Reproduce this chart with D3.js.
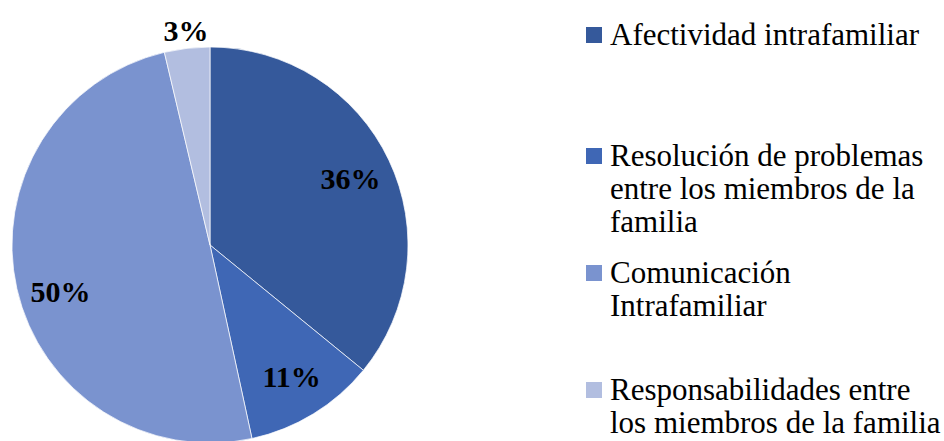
<!DOCTYPE html>
<html>
<head>
<meta charset="utf-8">
<script src="https://cdn.jsdelivr.net/npm/d3@7"></script>
<style>
  body { margin: 0; background: #fff; }
  svg { display: block; }
</style>
</head>
<body>
<div id="chart"></div>
<script>
// --- data ---
const categories = [
  "Afectividad intrafamiliar",
  "Resolución de problemas entre los miembros de la familia",
  "Comunicación Intrafamiliar",
  "Responsabilidades entre los miembros de la familia"
];
const values = [35.9, 10.7, 49.7, 3.7];
const valueLabels = ["36%", "11%", "50%", "3%"];
// legend text broken the way the picture wraps it
const legendLines = [
  ["Afectividad intrafamiliar"],
  ["Resolución de problemas", "entre los miembros de la", "familia"],
  ["Comunicación", "Intrafamiliar"],
  ["Responsabilidades entre", "los miembros de la familia"]
];
const colors = ["#35599b", "#3f67b5", "#7a93cf", "#b2bee0"];

const width = 944, height = 441;
const cx = 210, cy = 245, radius = 198;
const serif = "'Liberation Serif', 'Times New Roman', serif";

const svg = d3.select("#chart").append("svg")
  .attr("width", width)
  .attr("height", height);

const color = d3.scaleOrdinal().domain(categories).range(colors);

const pie = d3.pie().sort(null).value(d => d.value);
const arcs = pie(categories.map((c, i) => ({ name: c, value: values[i], label: valueLabels[i] })));

const arc = d3.arc().innerRadius(0).outerRadius(radius);

const g = svg.append("g").attr("transform", `translate(${cx},${cy})`);

g.selectAll("path")
  .data(arcs)
  .join("path")
  .attr("d", arc)
  .attr("fill", d => color(d.data.name))
  .attr("stroke", "#ffffff")
  .attr("stroke-opacity", 0.7)
  .attr("stroke-width", 1);

// labels: inside for big slices, just outside for the tiny one
const labelArc = d3.arc().innerRadius(radius * 0.78).outerRadius(radius * 0.78);
const outerArc = d3.arc().innerRadius(radius + 18).outerRadius(radius + 18);

// the big left label sits a bit lower than the slice middle (excel best fit)
function labelPos(d) {
  const [x, y] = (d.data.value < 5 ? outerArc : labelArc).centroid(d);
  const nudge = d.data.value > 45 ? 12 : 0;
  return [x + 1, y + nudge];
}

g.selectAll("text.val")
  .data(arcs)
  .join("text")
  .attr("class", "val")
  .attr("transform", d => `translate(${labelPos(d)})`)
  .attr("text-anchor", "middle")
  .attr("dy", "0.35em")
  .attr("font-family", serif)
  .attr("font-weight", "bold")
  .attr("font-size", 30)
  .attr("fill", "#000")
  .text(d => d.data.label);

// --- legend ---
const legendX = 586;
const lineH = 33;
const itemTop = [45, 166, 283, 400]; // first baseline of each entry

const legend = svg.append("g");
const item = legend.selectAll("g")
  .data(categories)
  .join("g");

item.append("rect")
  .attr("x", legendX)
  .attr("y", (d, i) => itemTop[i] - 18)
  .attr("width", 16)
  .attr("height", 16)
  .attr("fill", d => color(d));

item.append("text")
  .attr("x", legendX + 24)
  .attr("y", (d, i) => itemTop[i])
  .attr("font-family", serif)
  .attr("font-size", 31)
  .attr("fill", "#000")
  .selectAll("tspan")
  .data((d, i) => legendLines[i])
  .join("tspan")
  .attr("x", legendX + 24)
  .attr("dy", (d, j) => j === 0 ? 0 : lineH)
  .text(d => d);
</script>
</body>
</html>
